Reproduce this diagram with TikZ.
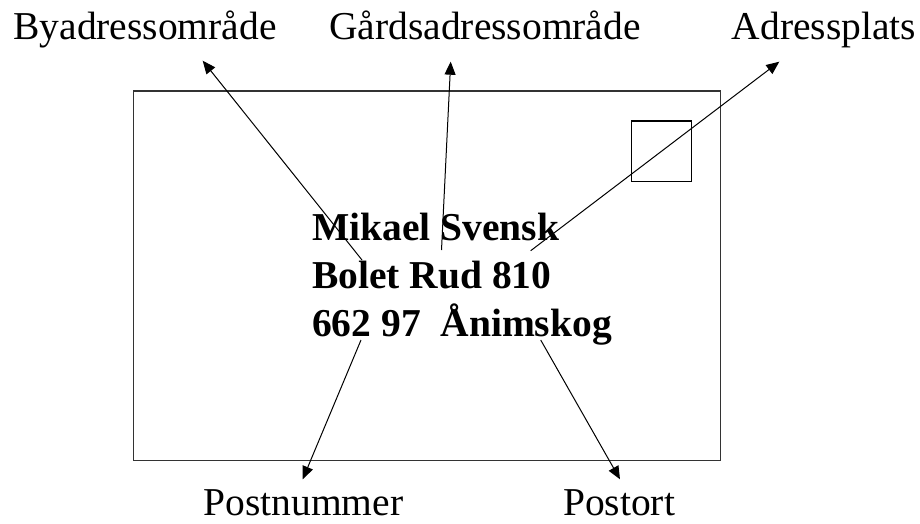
\documentclass[tikz,border=0pt]{standalone}
\usepackage{fontspec}
\setmainfont{Liberation Serif}
\usetikzlibrary{arrows.meta}
\tikzset{
  lbl/.style={anchor=base, inner sep=0pt, font=\fontsize{39.5}{47}\selectfont},
  addr/.style={anchor=base west, inner sep=0pt, font=\fontsize{39.5}{47}\selectfont\bfseries},
  pointer/.style={line width=1pt, -{Triangle[length=13pt,width=11pt]}},
  envbox/.style={draw=black!80, line width=1.4pt, inner sep=0pt, anchor=north west},
  stampbox/.style={draw=black, line width=1.3pt, inner sep=0pt, anchor=north west}
}
\begin{document}
\begin{tikzpicture}[x=1pt,y=-1pt]
\useasboundingbox (0,0) rectangle (920,524);
\node[envbox, minimum width=587.5pt, minimum height=369pt] (env) at (132.5,90.5) {};
\node[stampbox, minimum width=60pt, minimum height=60pt] (stamp) at (630.5,120.5) {};
% labels
\node[lbl] (by) at (145,39.3) {Byadressområde};
\node[lbl] (gard) at (485,39.3) {Gårdsadressområde};
\node[lbl] (plats) at (824,39.3) {Adressplats};
\node[lbl] (pnr) at (303.5,515) {Postnummer};
\node[lbl] (port) at (619,515) {Postort};
% address
\node[addr] (l1) at (312,240) {Mikael Svensk};
\node[addr] (l2) at (312,288.3) {Bolet Rud 810};
\node[addr] (l3) at (312,336.7) {662 97\ \ Ånimskog};
% arrow ends
\coordinate (s1) at (362,260);
\coordinate (t1) at (202.7,60.7);
\coordinate (s2) at (441.5,250);
\coordinate (t2) at (450.7,61.7);
\coordinate (s3) at (530.7,250.7);
\coordinate (t3) at (779.3,61.7);
\coordinate (s4) at (361,340);
\coordinate (t4) at (302.7,479.3);
\coordinate (s5) at (540.7,340);
\coordinate (t5) at (620,479.3);
\draw[pointer] (s1) -- (t1);
\draw[pointer] (s2) -- (t2);
\draw[pointer] (s3) -- (t3);
\draw[pointer] (s4) -- (t4);
\draw[pointer] (s5) -- (t5);
\end{tikzpicture}
\end{document}
